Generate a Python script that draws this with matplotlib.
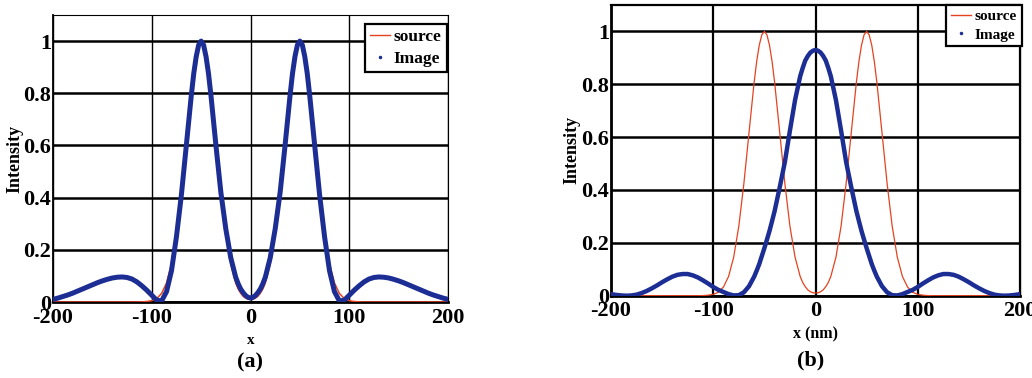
import matplotlib
matplotlib.use("Agg")
import matplotlib.pyplot as plt
from matplotlib.lines import Line2D

# Sample positions (nm) shared by every curve; denser around the peaks
x_nm = [
    -200, -195, -190, -185, -180, -175, -170, -165, -160, -155,
    -150, -145, -140, -135, -130, -125, -120, -115, -110, -105,
    -100, -95, -90, -85, -80, -75, -70, -65, -60,
    -57.5, -55, -52.5, -50, -47.5, -45, -42.5,
    -40, -35, -30, -25, -20, -15,
    -12.5, -10, -7.5, -5, -2.5, 0, 2.5, 5, 7.5, 10, 12.5,
    15, 20, 25, 30, 35, 40,
    42.5, 45, 47.5, 50, 52.5, 55, 57.5,
    60, 65, 70, 75, 80, 85, 90, 95, 100,
    105, 110, 115, 120, 125, 130, 135, 140, 145, 150,
    155, 160, 165, 170, 175, 180, 185, 190, 195, 200,
]

# Two-peak source intensity
source = [
    0, 0, 0, 0, 0, 0, 0, 0, 0, 0,
    0, 0, 0, 0, 0, 0, 0, 0.0, 0.0005, 0.002,
    0.005, 0.013, 0.033, 0.073, 0.146, 0.263, 0.426, 0.618, 0.808,
    0.887, 0.948, 0.987, 1.0, 0.987, 0.948, 0.887,
    0.808, 0.618, 0.426, 0.263, 0.146, 0.073,
    0.050, 0.034, 0.022, 0.015, 0.011, 0.010, 0.011, 0.015, 0.022, 0.034, 0.050,
    0.073, 0.146, 0.263, 0.426, 0.618, 0.808,
    0.887, 0.948, 0.987, 1.0, 0.987, 0.948, 0.887,
    0.808, 0.618, 0.426, 0.263, 0.146, 0.073, 0.033, 0.013, 0.005,
    0.002, 0.0005, 0.0, 0, 0, 0, 0, 0, 0, 0,
    0, 0, 0, 0, 0, 0, 0, 0, 0, 0,
]

# Image intensity, panel (a): both peaks resolved
image_a = [
    0.010, 0.015, 0.021, 0.027, 0.034, 0.042, 0.050, 0.058, 0.066, 0.074,
    0.081, 0.087, 0.092, 0.095, 0.096, 0.094, 0.088, 0.077, 0.062, 0.045,
    0.026, 0.007, 0.004, 0.040, 0.120, 0.250, 0.410, 0.600, 0.790,
    0.875, 0.940, 0.985, 1.000, 0.985, 0.940, 0.875,
    0.790, 0.600, 0.420, 0.280, 0.170, 0.095,
    0.070, 0.050, 0.036, 0.025, 0.018, 0.015, 0.018, 0.025, 0.036, 0.050, 0.070,
    0.095, 0.170, 0.280, 0.420, 0.600, 0.790,
    0.875, 0.940, 0.985, 1.000, 0.985, 0.940, 0.875,
    0.790, 0.600, 0.410, 0.250, 0.120, 0.040, 0.004, 0.007, 0.026,
    0.045, 0.062, 0.077, 0.088, 0.094, 0.096, 0.095, 0.092, 0.087, 0.081,
    0.074, 0.066, 0.058, 0.050, 0.042, 0.034, 0.027, 0.021, 0.015, 0.010,
]

# Image intensity, panel (b): peaks merged into one lobe
image_b = [
    0.006, 0.003, 0.001, 0.000, 0.001, 0.004, 0.010, 0.018, 0.028, 0.039,
    0.051, 0.062, 0.072, 0.079, 0.082, 0.082, 0.077, 0.069, 0.058, 0.046,
    0.033, 0.022, 0.014, 0.006, 0.001, 0.002, 0.013, 0.036, 0.072,
    0.095, 0.120, 0.150, 0.180, 0.212, 0.245, 0.282,
    0.320, 0.410, 0.505, 0.625, 0.740, 0.830,
    0.862, 0.890, 0.907, 0.920, 0.927, 0.930, 0.927, 0.920, 0.907, 0.890, 0.862,
    0.830, 0.740, 0.625, 0.505, 0.410, 0.320,
    0.282, 0.245, 0.212, 0.180, 0.150, 0.120, 0.095,
    0.072, 0.036, 0.013, 0.002, 0.001, 0.006, 0.014, 0.022, 0.033,
    0.046, 0.058, 0.069, 0.077, 0.082, 0.082, 0.079, 0.072, 0.062, 0.051,
    0.039, 0.028, 0.018, 0.010, 0.004, 0.001, 0.000, 0.001, 0.003, 0.006,
]

x_ticks = [-200, -100, 0, 100, 200]
x_tick_labels = ["-200", "-100", "0", "100", "200"]
y_ticks = [0, 0.2, 0.4, 0.6, 0.8, 1.0]
y_tick_labels = ["0", "0.2", "0.4", "0.6", "0.8", "1"]

RED = "#e5421f"
BLUE = "#1c2d94"

plt.rcParams["font.family"] = ["Liberation Serif", "DejaVu Serif"]
plt.rcParams["font.weight"] = "bold"

W, H = 1032, 378
fig = plt.figure(figsize=(W / 100, H / 100), dpi=100)


def px_axes(left, right, top, bottom):
    return fig.add_axes([left / W, 1 - bottom / H, (right - left) / W, (bottom - top) / H])


def style_axes(ax, vgrid_lw, hgrid_lw, spine_lw):
    ax.set_xlim(-200, 200)
    ax.set_ylim(0, 1.1)
    ax.set_xticks(x_ticks)
    ax.set_xticklabels(x_tick_labels)
    ax.set_yticks(y_ticks)
    ax.set_yticklabels(y_tick_labels)
    ax.set_axisbelow(True)
    ax.grid(axis="x", color="black", lw=vgrid_lw)
    ax.grid(axis="y", color="black", lw=hgrid_lw)
    ax.tick_params(axis="x", direction="in", length=3, pad=4, labelsize=16)
    ax.tick_params(axis="y", direction="in", length=3, pad=1.5, labelsize=16)
    for lab in ax.get_xticklabels() + ax.get_yticklabels():
        lab.set_fontweight("bold")
    for name, lw in spine_lw.items():
        ax.spines[name].set_linewidth(lw)
        ax.spines[name].set_color("black")


def add_legend(ax, anchor, size, hlen):
    handles = [
        Line2D([], [], color=RED, lw=1.0),
        Line2D([], [], color=BLUE, ls="none", marker=".", ms=3),
    ]
    leg = ax.legend(handles, ["source", "Image"], loc="upper right",
                    bbox_to_anchor=anchor, bbox_transform=fig.transFigure,
                    borderaxespad=0, fancybox=False, framealpha=1,
                    edgecolor="black", handlelength=hlen, handletextpad=0.25,
                    borderpad=0.3, labelspacing=0.3,
                    prop={"family": "Liberation Serif", "weight": "bold", "size": size})
    leg.get_frame().set_linewidth(1.6)


# Panel (a)
ax1 = px_axes(53, 448, 15, 302)
style_axes(ax1, 1.0, 1.8, {"left": 1.3, "bottom": 2.0, "top": 0.8, "right": 0.8})
ax1.plot(x_nm, source, color=RED, lw=1.1, zorder=3)
ax1.plot(x_nm, image_a, color=BLUE, lw=3.6, zorder=4, solid_joinstyle="round")
ax1.set_xlabel("x", fontsize=11, fontweight="bold", va="center")
ax1.xaxis.set_label_coords(0.5, (302 - 340) / 287)
ax1.set_ylabel("Intensity", fontsize=13, fontweight="bold", va="center")
ax1.yaxis.set_label_coords((15 - 53) / 395, 0.5)
add_legend(ax1, (447 / W, 1 - 24 / H), 12.5, 1.1)
fig.text(250 / W, 1 - 362 / H, "(a)", ha="center", va="center", fontsize=16, fontweight="bold")

# Panel (b)
ax2 = px_axes(611, 1020, 5, 295.7)
style_axes(ax2, 1.6, 1.8, {"left": 2.0, "bottom": 2.0, "top": 1.6, "right": 1.0})
ax2.plot(x_nm, source, color=RED, lw=0.9, zorder=3)
ax2.plot(x_nm, image_b, color=BLUE, lw=3.2, zorder=4, solid_joinstyle="round")
ax2.set_xlabel("x (nm)", fontsize=11.5, fontweight="bold", va="center")
ax2.xaxis.set_label_coords(0.5, (295.7 - 334) / 290.7)
ax2.set_ylabel("Intensity", fontsize=13, fontweight="bold", va="center")
ax2.yaxis.set_label_coords((571.7 - 611) / 409, 0.5)
add_legend(ax2, (1021.5 / W, 1 - 5 / H), 11, 1.3)
fig.text(811 / W, 1 - 360 / H, "(b)", ha="center", va="center", fontsize=16, fontweight="bold")

fig.savefig("out.png", dpi=100)
